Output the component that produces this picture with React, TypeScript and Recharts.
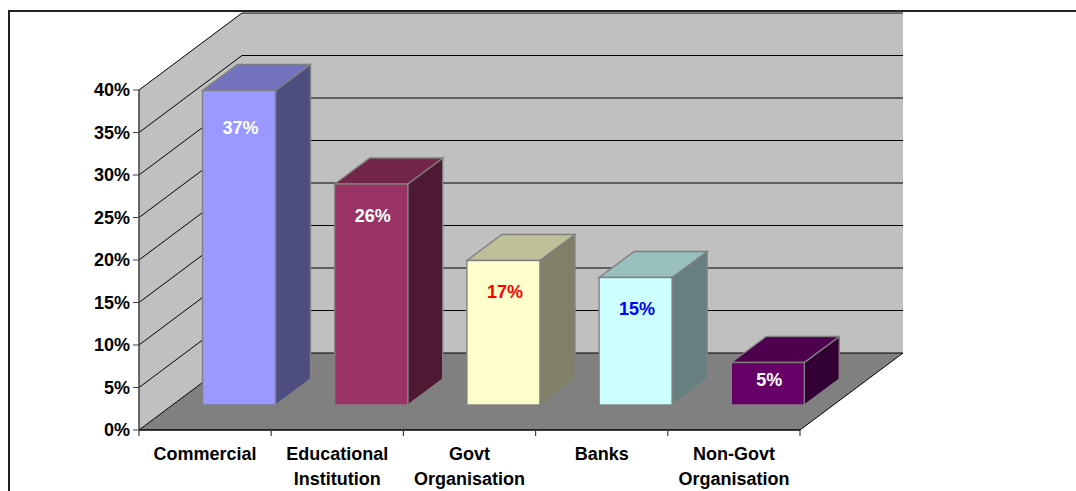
import React from "react";
import {
  BarChart,
  Bar,
  XAxis,
  YAxis,
  CartesianGrid,
  Cell,
  LabelList,
  usePlotArea,
} from "recharts";

// Survey shares per client sector, in percent.
const categories = [
  "Commercial",
  "Educational Institution",
  "Govt Organisation",
  "Banks",
  "Non-Govt Organisation",
];
const shares = [37, 26, 17, 15, 5];
const valueTicks = [0, 5, 10, 15, 20, 25, 30, 35, 40];

const frontFaces = ["#9999ff", "#993366", "#ffffcc", "#ccffff", "#660066"];
const topFaces = ["#7373bf", "#732649", "#bfbf99", "#99bfbf", "#4d004d"];
const sideFaces = ["#4d4d80", "#4d1933", "#808066", "#668080", "#330033"];
const labelColors = ["#ffffff", "#ffffff", "#ff0000", "#0000ff", "#ffffff"];
const labelDrops = [37, 32, 31, 31, 17];

const rows = categories.map((name, i) => ({ name, share: shares[i] }));

// Oblique projection of the box: full floor depth, bar depth, and where a bar sits on the floor.
const DEPTH_X = 103;
const DEPTH_Y = 77;
const BAR_DEPTH_X = 35;
const BAR_DEPTH_Y = 26;
const BAR_SHIFT_X = 33.5;
const BAR_SHIFT_Y = 25;

const FONT = "'Liberation Sans', Arial, sans-serif";

const pts = (list: number[][]) => list.map((p) => p.join(",")).join(" ");

// Left wall, back wall and floor of the box, painted behind the grid and the bars.
function Walls() {
  const area = usePlotArea();
  if (!area) return null;
  const { x, y, width, height } = area;
  const r = x + width;
  const b = y + height;
  return (
    <g>
      <polygon
        points={pts([[x, b], [x, y], [x + DEPTH_X, y - DEPTH_Y], [x + DEPTH_X, b - DEPTH_Y]])}
        fill="#c0c0c0"
      />
      <polygon
        points={pts([[x + DEPTH_X, y - DEPTH_Y], [r + DEPTH_X, y - DEPTH_Y], [r + DEPTH_X, b - DEPTH_Y], [x + DEPTH_X, b - DEPTH_Y]])}
        fill="#c0c0c0"
      />
      <polygon
        points={pts([[x, b], [r, b], [r + DEPTH_X, b - DEPTH_Y], [x + DEPTH_X, b - DEPTH_Y]])}
        fill="#808080"
      />
      <line x1={r} y1={b} x2={r + DEPTH_X} y2={b - DEPTH_Y} stroke="#000" strokeWidth={1} />
    </g>
  );
}

// A gridline runs along the left wall and then across the back wall.
function WallLine(props: any) {
  const { x1, y1, x2 } = props;
  return (
    <polyline
      points={pts([[x1, y1], [x1 + DEPTH_X, y1 - DEPTH_Y], [x2 + DEPTH_X, y1 - DEPTH_Y]])}
      fill="none"
      stroke="#000"
      strokeWidth={1}
    />
  );
}

// Extruded bar: front, top and side faces standing on the floor.
function Box(props: any) {
  const { x, y, width, height, index } = props;
  const l = x + BAR_SHIFT_X;
  const r = l + width;
  const t = y - BAR_SHIFT_Y;
  const b = t + height;
  const edge = { stroke: "#808080", strokeWidth: 1.4 };
  return (
    <g>
      <polygon
        points={pts([[r, t], [r + BAR_DEPTH_X, t - BAR_DEPTH_Y], [r + BAR_DEPTH_X, b - BAR_DEPTH_Y], [r, b]])}
        fill={sideFaces[index]}
        {...edge}
      />
      <polygon
        points={pts([[l, t], [l + BAR_DEPTH_X, t - BAR_DEPTH_Y], [r + BAR_DEPTH_X, t - BAR_DEPTH_Y], [r, t]])}
        fill={topFaces[index]}
        {...edge}
      />
      <rect x={l} y={t} width={width} height={height} fill={frontFaces[index]} {...edge} />
    </g>
  );
}

function ShareLabel(props: any) {
  const { x, y, width, index, value } = props;
  return (
    <text
      x={x + BAR_SHIFT_X + width / 2 + 1.5}
      y={y - BAR_SHIFT_Y + labelDrops[index]}
      dy="0.36em"
      textAnchor="middle"
      fontFamily={FONT}
      fontWeight="bold"
      fontSize={18}
      fill={labelColors[index]}
    >
      {value}%
    </text>
  );
}

// Category label wrapped on its spaces, with tick marks on the band boundaries.
const BAND = 661 / categories.length;

function CategoryTick(props: any) {
  const { x, y, payload, index } = props;
  const axisY = y - 8;
  const words = String(payload.value).split(" ");
  const mark = (px: number) => (
    <line x1={px} y1={axisY} x2={px} y2={axisY + 6} stroke="#404040" strokeWidth={1.2} />
  );
  return (
    <g>
      {mark(x - BAND / 2)}
      {index === categories.length - 1 ? mark(x + BAND / 2) : null}
      <text
        textAnchor="middle"
        fontFamily={FONT}
        fontWeight="bold"
        fontSize={18}
        fill="#000"
      >
        {words.map((w, i) => (
          <tspan key={w} x={x} y={y + 22 + i * 25}>
            {w}
          </tspan>
        ))}
      </text>
    </g>
  );
}

export default function App() {
  return (
    <div
      style={{
        position: "absolute",
        left: 0,
        top: 0,
        width: 1076,
        height: 491,
        overflow: "hidden",
        background: "#fff",
      }}
    >
      <div
        style={{
          position: "absolute",
          left: 8,
          top: 10,
          right: 0,
          bottom: 0,
          borderLeft: "2px solid #222",
          borderTop: "2px solid #222",
        }}
      />
      <div style={{ position: "absolute", left: 0, top: 0 }}>
        <BarChart
          width={1076}
          height={491}
          data={rows}
          margin={{ top: 90, right: 276, bottom: 0, left: 0 }}
          barSize={73}
          style={{ overflow: "visible" }}
        >
          <Walls />
          <CartesianGrid
            {...({ zIndex: 1 } as any)}
            vertical={false}
            horizontal={(p: any) => <WallLine key={p.index} {...p} />}
          />
          <XAxis
            dataKey="name"
            height={61}
            axisLine={{ stroke: "#000", strokeWidth: 1.5 }}
            tickLine={false}
            interval={0}
            tick={<CategoryTick />}
          />
          <YAxis
            width={139}
            domain={[0, 40]}
            ticks={valueTicks}
            interval={0}
            tickFormatter={(v: number) => `${v}%`}
            axisLine={{ stroke: "#404040", strokeWidth: 1.5 }}
            tickLine={{ stroke: "#404040", strokeWidth: 1 }}
            tickSize={6}
            tickMargin={3}
            tick={{ fontFamily: FONT, fontWeight: "bold", fontSize: 18, fill: "#000" }}
          />
          <Bar dataKey="share" isAnimationActive={false} shape={<Box />}>
            {rows.map((r, i) => (
              <Cell key={r.name} fill={frontFaces[i]} />
            ))}
            <LabelList dataKey="share" content={<ShareLabel />} />
          </Bar>
        </BarChart>
      </div>
    </div>
  );
}
